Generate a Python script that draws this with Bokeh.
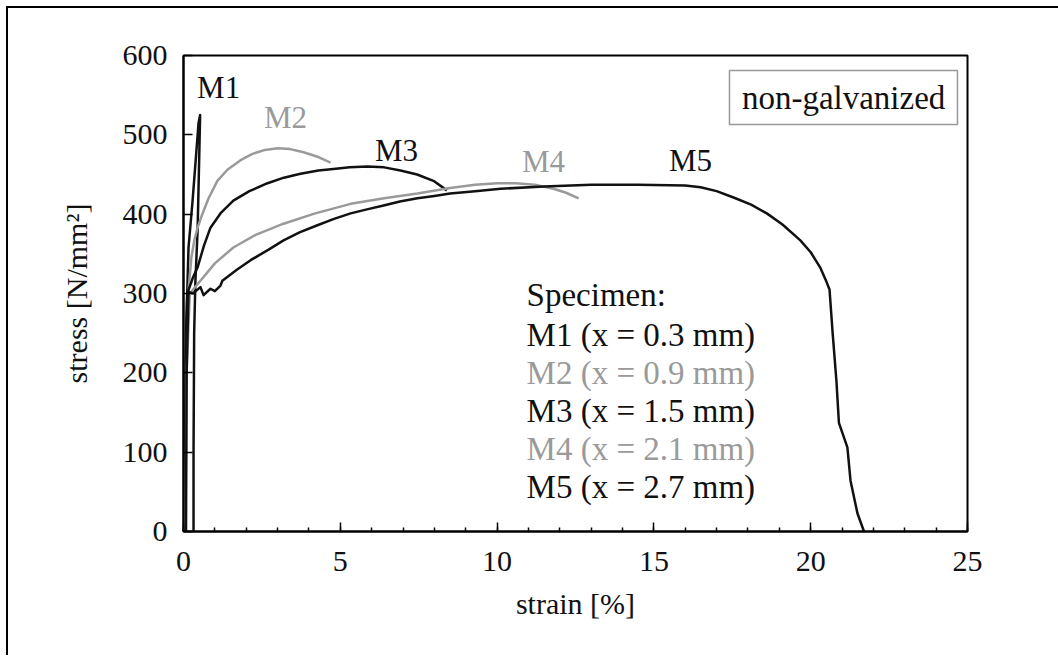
from bokeh.plotting import figure
from bokeh.models import SingleIntervalTicker, Range1d
from bokeh.core.properties import value
from bokeh.embed import file_html
from bokeh.resources import INLINE

# ---- data ----
m1_strain = [0.05, 0.08, 0.13, 0.16, 0.29, 0.48, 0.53, 0.5, 0.45, 0.38, 0.34, 0.32, 0.32]
m1_stress = [0, 250, 316, 358, 417, 515, 525, 470, 380, 316, 250, 100, 0]

m2_strain = [0.05, 0.08, 0.15, 0.25, 0.35, 0.45, 0.6, 0.8, 1.08, 1.4, 1.82, 2.2, 2.6,
             3.0, 3.4, 3.83, 4.3, 4.69]
m2_stress = [0, 200, 300, 345, 368, 383, 400, 420, 442, 456, 468, 476, 481,
             483, 482, 478, 472, 465]

m3_strain = [0.04, 0.07, 0.12, 0.3, 0.45, 0.65, 0.86, 1.2, 1.59, 2.1, 2.68, 3.2, 3.73,
             4.3, 4.78, 5.3, 5.87, 6.4, 6.92, 7.45, 7.97, 8.4]
m3_stress = [0, 200, 300, 320, 333, 360, 383, 402, 417, 429, 439, 446, 451,
             455, 457, 459, 460, 459, 455, 450, 442, 430]

m4_strain = [0.06, 0.1, 0.2, 0.54, 1.0, 1.59, 2.3, 3.19, 4.2, 5.33, 6.4, 7.46, 8.5,
             9.3, 10.0, 10.6, 11.2, 11.8, 12.2, 12.6]
m4_stress = [0, 200, 300, 316, 338, 358, 374, 388, 401, 413, 420, 426, 433,
             437, 439, 439, 437, 432, 427, 420]

m5_strain = [0.08, 0.1, 0.16, 0.3, 0.54, 0.64, 0.86, 1.0, 1.18, 1.24, 1.7, 2.14, 2.7,
             3.19, 3.7, 4.27, 4.8, 5.33, 5.85, 6.38, 6.9, 7.46, 8.0, 8.5, 9.3, 10.11,
             11.5, 13.0, 14.5, 16.0, 16.49, 17.0, 17.54, 18.1, 18.6, 19.1, 19.67, 20.0,
             20.3, 20.5, 20.6, 20.7, 20.82, 20.9, 21.17, 21.27, 21.49, 21.7]
m5_stress = [0, 200, 302, 300, 308, 298, 306, 303, 310, 316, 330, 342, 355,
             367, 377, 386, 394, 401, 406, 411, 416, 420, 423, 426, 429, 432,
             435, 437, 437, 436, 434, 429, 421, 412, 401, 387, 367, 352,
             333, 315, 305, 250, 190, 137, 106, 64, 23, 0]

curve_names = ["M1", "M2", "M3", "M4", "M5"]
curve_colors = ["#111111", "#9a9a9a", "#111111", "#9a9a9a", "#111111"]
curve_label_x = [1.12, 3.25, 6.79, 11.48, 16.17]
curve_label_y = [560, 522, 480, 466, 468]

legend_title = "Specimen:"
legend_lines = ["M1 (x = 0.3 mm)", "M2 (x = 0.9 mm)", "M3 (x = 1.5 mm)",
                "M4 (x = 2.1 mm)", "M5 (x = 2.7 mm)"]
legend_y = [248, 200, 152, 104, 56]
legend_x = 10.94

x_label = "strain [%]"
y_label = "stress [N/mm²]"
box_text = "non-galvanized"

FONT = value("Liberation Serif")

p = figure(frame_width=784, frame_height=476,
           min_border_left=175, min_border_right=92,
           min_border_top=47, min_border_bottom=124,
           x_range=Range1d(0, 25), y_range=Range1d(0, 600),
           output_backend="svg", toolbar_location=None)
p.styles = {"border-top": "2px solid black", "border-left": "2px solid black",
            "margin-left": "6px", "margin-top": "6px"}
p.grid.visible = False
p.outline_line_color = "black"
p.outline_line_width = 2
p.outline_line_alpha = 1.0

p.xaxis.ticker = SingleIntervalTicker(interval=5, num_minor_ticks=5)
p.yaxis.ticker = SingleIntervalTicker(interval=100, num_minor_ticks=0)
for ax in (p.xaxis[0], p.yaxis[0]):
    ax.axis_line_width = 2
    ax.axis_line_color = "black"
    ax.major_tick_in = 9
    ax.major_tick_out = 0
    ax.minor_tick_in = 4
    ax.minor_tick_out = 0
    ax.major_tick_line_width = 1.5
    ax.minor_tick_line_width = 1.5
    ax.major_label_text_font = "Liberation Serif"
    ax.major_label_text_font_size = "30px"
    ax.major_label_text_color = "#111111"
    ax.axis_label_text_font = "Liberation Serif"
    ax.axis_label_text_font_size = "30px"
    ax.axis_label_text_font_style = "normal"
    ax.axis_label_text_color = "#111111"
p.yaxis[0].minor_tick_line_color = None
p.xaxis[0].axis_label = x_label
p.yaxis[0].axis_label = y_label
p.xaxis[0].major_label_standoff = 20
p.xaxis[0].axis_label_standoff = 13
p.yaxis[0].major_label_standoff = 16
p.yaxis[0].axis_label_standoff = 27

curves = [(m1_strain, m1_stress), (m2_strain, m2_stress), (m3_strain, m3_stress),
          (m4_strain, m4_stress), (m5_strain, m5_stress)]
for (xs, ys), c in zip(curves, curve_colors):
    p.line(xs, ys, line_color=c, line_width=2.5, line_join="round")

# curve labels
p.text(x=curve_label_x, y=curve_label_y, text=curve_names,
       text_color=curve_colors, text_font=FONT, text_font_size="31px",
       text_align="center", text_baseline="middle")

# specimen legend
p.text(x=[legend_x], y=[298], text=[legend_title], text_color="#111111",
       text_font=FONT, text_font_size="33px", text_baseline="middle")
p.text(x=[legend_x] * 5, y=legend_y, text=legend_lines, text_color=curve_colors,
       text_font=FONT, text_font_size="33px", text_baseline="middle")

# boxed note
p.quad(left=[17.41], right=[24.68], bottom=[513], top=[581],
       fill_color="white", line_color="#999999", line_width=1.5)
p.text(x=[21.05], y=[547], text=[box_text], text_color="#111111",
       text_font=FONT, text_font_size="33px", text_align="center",
       text_baseline="middle")

open("out.html", "w").write(file_html(p, INLINE))
